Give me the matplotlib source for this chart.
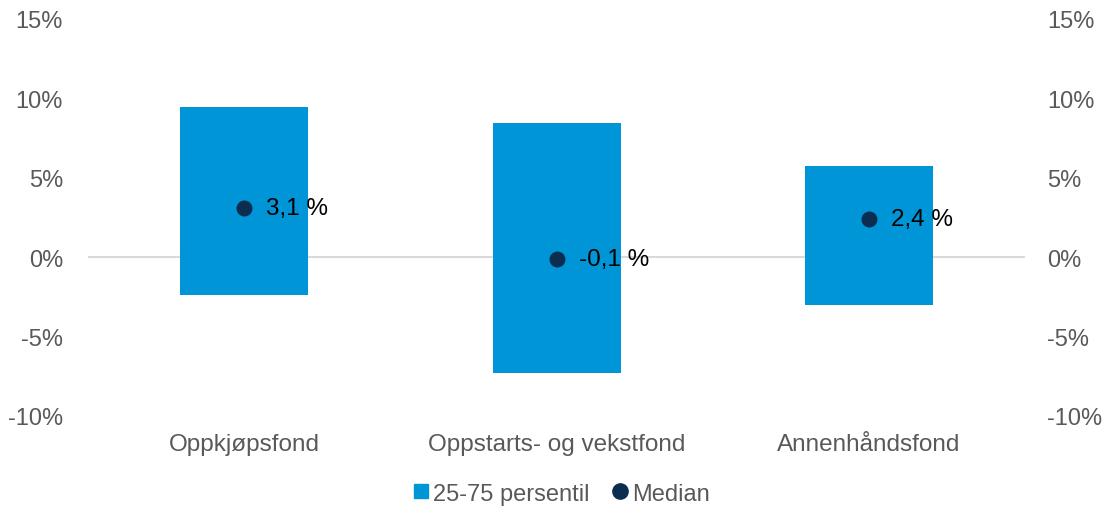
import matplotlib
matplotlib.use("Agg")
import matplotlib.pyplot as plt
from matplotlib.lines import Line2D

categories = ["Oppkjøpsfond", "Oppstarts- og vekstfond", "Annenhåndsfond"]
p25 = [-2.4, -7.3, -3.0]
p75 = [9.45, 8.45, 5.75]
median = [3.1, -0.1, 2.4]
median_labels = ["3,1 %", "-0,1 %", "2,4 %"]
yticks = [-10, -5, 0, 5, 10, 15]

plt.rcParams['font.family'] = ['Liberation Sans', 'DejaVu Sans']
gray = "#595959"
bar_color = "#0095D6"
dot_color = "#0B2D4F"
fs = 17.5
fs_y = 17

fig = plt.figure(figsize=(11.06, 5.10), dpi=100)
ax = fig.add_axes([0.0796, 0.1824, 0.8472, 0.7784])
x = list(range(len(categories)))
heights = [t - b for t, b in zip(p75, p25)]
ax.bar(x, heights, bottom=p25, width=0.41, color=bar_color, zorder=2)
ax.scatter(x, median, s=110, color=dot_color, zorder=3)
for xi, m, lab in zip(x, median, median_labels):
    ax.annotate(lab, (xi, m), xytext=(16, 0), textcoords="offset points",
                va="center", ha="left", fontsize=fs, color="black", zorder=4)
ax.axhline(0, color="#D9D9D9", lw=1.5, zorder=1)
ax.set_xlim(-0.5, 2.5)
ax.set_ylim(-10, 15)
ax.set_yticks(yticks)
ax.set_yticklabels([f"{v}%" for v in yticks])
ax.set_xticks(x)
ax.set_xticklabels(categories)
ax.tick_params(axis="x", length=0, colors=gray, labelsize=fs, pad=12)
ax.tick_params(axis="y", length=0, colors=gray, labelsize=fs_y, pad=18)
for s in ax.spines.values():
    s.set_visible(False)
ax2 = ax.twinx()
ax2.set_ylim(-10, 15)
ax2.set_yticks(yticks)
ax2.set_yticklabels([f"{v}%" for v in yticks])
ax2.tick_params(axis="y", length=0, colors=gray, labelsize=fs_y, pad=16)
for s in ax2.spines.values():
    s.set_visible(False)

handles = [Line2D([], [], marker="s", color=bar_color, ls="", markersize=10),
           Line2D([], [], marker="o", color=dot_color, ls="", markersize=11)]
leg = fig.legend(handles, ["25-75 persentil", "Median"], loc="center",
                 bbox_to_anchor=(0.506, 0.03), ncol=2, frameon=False,
                 fontsize=fs_y, handletextpad=0.0, columnspacing=0.8,
                 handlelength=1.0)
for t in leg.get_texts():
    t.set_color(gray)

fig.savefig("out.png", dpi=100)
